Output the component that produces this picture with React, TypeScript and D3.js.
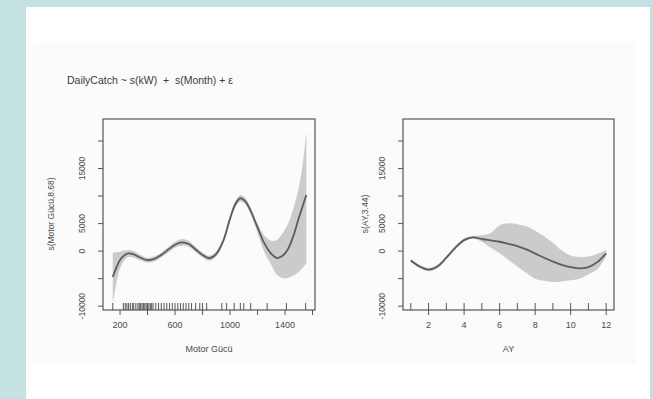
import * as d3 from "d3";

// ---- data ----
const kw = [147, 175, 200, 230, 260, 300, 350, 400, 450, 500, 560, 610, 650, 700, 750, 800, 850, 900, 950, 1000, 1040, 1075, 1110, 1150, 1200, 1250, 1300, 1340, 1380, 1420, 1460, 1500, 1530, 1555];
const kwFit = [-4700, -2900, -1600, -800, -420, -600, -1200, -1650, -1400, -700, 450, 1300, 1600, 1300, 300, -700, -1300, -500, 1800, 5900, 8600, 9600, 9100, 7300, 4300, 1400, -500, -1250, -900, 300, 2700, 6000, 8300, 10200];
const kwUpper = [-300, -200, -100, 100, 200, 0, -700, -1200, -950, -250, 950, 1850, 2200, 1850, 800, -250, -850, 0, 2300, 6400, 9200, 10200, 9700, 7900, 5000, 2800, 1900, 2000, 3200, 4900, 7700, 11500, 16000, 21700];
const kwLower = [-9800, -5600, -3100, -1700, -1050, -1200, -1700, -2100, -1850, -1150, -50, 750, 1000, 750, -200, -1150, -1750, -1000, 1300, 5400, 8000, 9000, 8500, 6700, 3300, -200, -2500, -4300, -4900, -4900, -4500, -3800, -3000, -2200];
const kwRug = [147, 224, 238, 250, 262, 275, 290, 300, 315, 330, 340, 350, 360, 370, 380, 390, 400, 410, 420, 430, 440, 460, 480, 500, 520, 540, 560, 580, 600, 620, 640, 660, 680, 700, 720, 750, 780, 800, 830, 940, 975, 1030, 1075, 1100, 1150, 1270, 1410, 1550];
const kwTicks = [200, 400, 600, 800, 1000, 1200, 1400, 1600];
const kwTickLabels = [200, 600, 1000, 1400];

const months = [1, 1.5, 2, 2.5, 3, 3.5, 4, 4.5, 5, 5.5, 6, 6.5, 7, 7.5, 8, 8.5, 9, 9.5, 10, 10.5, 11, 11.5, 12];
const monthFit = [-1700, -2800, -3350, -2800, -1200, 600, 2000, 2500, 2200, 1950, 1700, 1300, 900, 300, -450, -1200, -1900, -2500, -2900, -3150, -2900, -2000, -400];
const monthUpper = [-1400, -2500, -3050, -2500, -900, 900, 2300, 2750, 2900, 3300, 4700, 5050, 4900, 4500, 3700, 2700, 1500, 100, -800, -1050, -1000, -500, 200];
const monthLower = [-2000, -3100, -3650, -3100, -1500, 300, 1700, 2250, 1700, 600, -400, -1600, -2800, -4000, -5000, -5400, -5600, -5500, -5300, -5000, -4200, -3300, -1000];
const monthRug = [1, 2, 3, 4, 5, 6, 7, 8, 9, 10, 11, 12];
const monthTicks = [2, 4, 6, 8, 10, 12];

const yTicks = [-10000, -5000, 0, 5000, 10000, 15000, 20000];
const yTickLabels = [-10000, 0, 5000, 15000];

const title = "DailyCatch ~ s(kW)  +  s(Month) + ε";

const W = 653;
const H = 399;
const top = 119;
const bottom = 310;
const ink = "#555";
const txt = "#4a4a4a";
const font = "Liberation Sans, Arial, sans-serif";

const y = d3.scaleLinear().domain([-10700, 24000]).range([bottom, top]);

type PanelProps = {
    x0: number; x1: number; domain: [number, number];
    xs: number[]; fit: number[]; upper: number[]; lower: number[];
    rug: number[]; ticks: number[]; tickLabels: number[];
    xLabel: string; yLabel: string; yLabelX: number;
};

const Panel = (p: PanelProps) => {
    const x = d3.scaleLinear().domain(p.domain).range([p.x0, p.x1]);
    const idx = p.xs.map((_, i) => i);
    const area = d3.area<number>()
        .x(i => x(p.xs[i]))
        .y0(i => y(p.lower[i]))
        .y1(i => y(p.upper[i]))
        .curve(d3.curveCatmullRom);
    const line = d3.line<number>()
        .x(i => x(p.xs[i]))
        .y(i => y(p.fit[i]))
        .curve(d3.curveCatmullRom);
    const cx = (p.x0 + p.x1) / 2;
    return (
        <g>
            <path d={area(idx) || ""} fill="#cbcbcb" />
            <path d={line(idx) || ""} fill="none" stroke="#5c5c5c" strokeWidth={1.8} />
            {p.rug.map((v, i) => (
                <line key={"r" + i} x1={x(v)} x2={x(v)} y1={bottom} y2={bottom - 7} stroke="#444" strokeWidth={0.9} />
            ))}
            <rect x={p.x0} y={top} width={p.x1 - p.x0} height={bottom - top} fill="none" stroke={ink} strokeWidth={1.2} />
            {p.ticks.map(t => (
                <line key={"xt" + t} x1={x(t)} x2={x(t)} y1={bottom} y2={bottom + 5} stroke={ink} strokeWidth={1} />
            ))}
            {p.tickLabels.map(t => (
                <text key={"xl" + t} x={x(t)} y={328} textAnchor="middle" fontSize={9} fill={txt} fontFamily={font}>{t}</text>
            ))}
            {yTicks.map(t => (
                <line key={"yt" + t} x1={p.x0 - 5} x2={p.x0} y1={y(t)} y2={y(t)} stroke={ink} strokeWidth={1} />
            ))}
            {yTickLabels.map(t => (
                <text key={"yl" + t} transform={`translate(${p.x0 - 18},${y(t)}) rotate(-90)`} textAnchor="middle" fontSize={8.5} fill={txt} fontFamily={font}>{t}</text>
            ))}
            <text x={cx} y={352} textAnchor="middle" fontSize={9} fill={txt} fontFamily={font}>{p.xLabel}</text>
            <text transform={`translate(${p.yLabelX},${214}) rotate(-90)`} textAnchor="middle" fontSize={8.5} fill={txt} fontFamily={font}>{p.yLabel}</text>
        </g>
    );
};

const App = () => {
    return (
        <svg width={W} height={H} style={{ position: "absolute", left: 0, top: 0 }}>
            <rect x={0} y={0} width={W} height={H} fill="#c4e2e2" />
            <rect x={26} y={7} width={624} height={H - 7} fill="#ffffff" />
            <rect x={33} y={42} width={603} height={323} fill="#fbfbfb" />
            <text x={67} y={84} fontSize={10.5} fill="#3a3a3a" fontFamily={font} style={{ whiteSpace: "pre" }}>{title}</text>
            <Panel x0={103} x1={315} domain={[76, 1618]} xs={kw} fit={kwFit} upper={kwUpper} lower={kwLower}
                rug={kwRug} ticks={kwTicks} tickLabels={kwTickLabels}
                xLabel="Motor Gücü" yLabel="s(Motor Gücü,8.68)" yLabelX={54} />
            <Panel x0={403} x1={614} domain={[0.56, 12.44]} xs={months} fit={monthFit} upper={monthUpper} lower={monthLower}
                rug={monthRug} ticks={monthTicks} tickLabels={monthTicks}
                xLabel="AY" yLabel="s(AY,3.44)" yLabelX={368} />
        </svg>
    );
};

export default App;
